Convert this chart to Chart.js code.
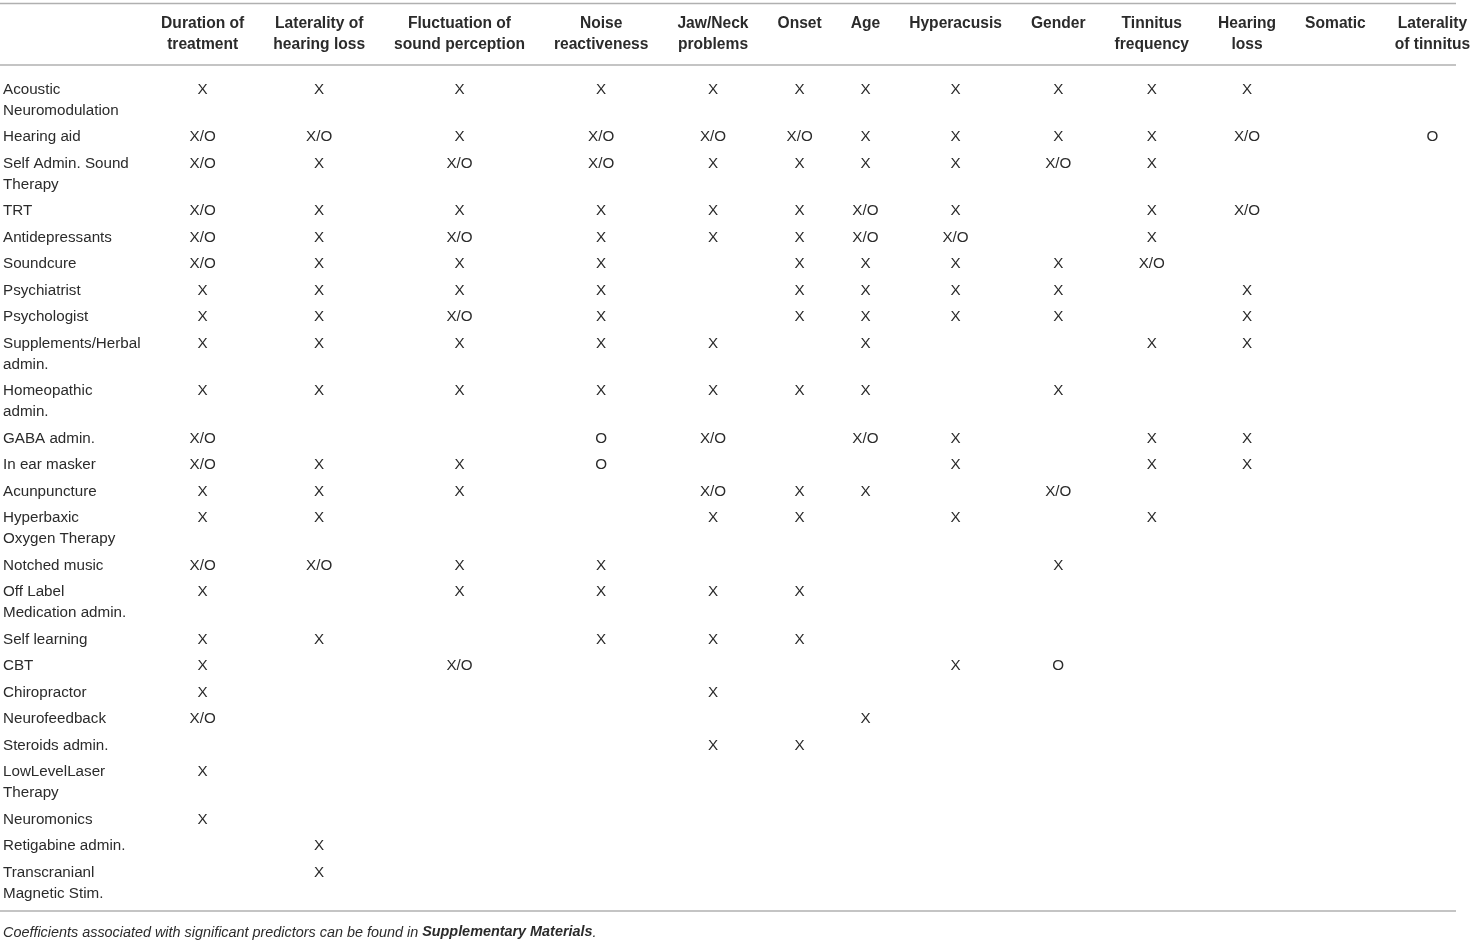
<!DOCTYPE html>
<html>
<head>
<meta charset="utf-8">
<script src="https://cdn.jsdelivr.net/npm/chart.js@4.4.1/dist/chart.umd.min.js"></script>
<style>
  html, body { margin: 0; padding: 0; background: #fff; }
  #wrap { width: 1470px; height: 940px; }
</style>
</head>
<body>
<div id="wrap"><canvas id="predictors"></canvas></div>
<script>
// column headers (one entry per predictor, lines as drawn)
const predictors = [
    ["Duration of", "treatment"],
    ["Laterality of", "hearing loss"],
    ["Fluctuation of", "sound perception"],
    ["Noise", "reactiveness"],
    ["Jaw/Neck", "problems"],
    ["Onset"],
    ["Age"],
    ["Hyperacusis"],
    ["Gender"],
    ["Tinnitus", "frequency"],
    ["Hearing", "loss"],
    ["Somatic"],
    ["Laterality", "of tinnitus"]
];

// row labels (treatments)
const treatments = [
    ["Acoustic", "Neuromodulation"],
    ["Hearing aid"],
    ["Self Admin. Sound", "Therapy"],
    ["TRT"],
    ["Antidepressants"],
    ["Soundcure"],
    ["Psychiatrist"],
    ["Psychologist"],
    ["Supplements/Herbal", "admin."],
    ["Homeopathic", "admin."],
    ["GABA admin."],
    ["In ear masker"],
    ["Acunpuncture"],
    ["Hyperbaxic", "Oxygen Therapy"],
    ["Notched music"],
    ["Off Label", "Medication admin."],
    ["Self learning"],
    ["CBT"],
    ["Chiropractor"],
    ["Neurofeedback"],
    ["Steroids admin."],
    ["LowLevelLaser", "Therapy"],
    ["Neuromonics"],
    ["Retigabine admin."],
    ["Transcranianl", "Magnetic Stim."]
];

// significant predictors per treatment, same order as predictors ("" = not significant)
const significance = [
    ["X", "X", "X", "X", "X", "X", "X", "X", "X", "X", "X"],
    ["X/O", "X/O", "X", "X/O", "X/O", "X/O", "X", "X", "X", "X", "X/O", "", "O"],
    ["X/O", "X", "X/O", "X/O", "X", "X", "X", "X", "X/O", "X"],
    ["X/O", "X", "X", "X", "X", "X", "X/O", "X", "", "X", "X/O"],
    ["X/O", "X", "X/O", "X", "X", "X", "X/O", "X/O", "", "X"],
    ["X/O", "X", "X", "X", "", "X", "X", "X", "X", "X/O"],
    ["X", "X", "X", "X", "", "X", "X", "X", "X", "", "X"],
    ["X", "X", "X/O", "X", "", "X", "X", "X", "X", "", "X"],
    ["X", "X", "X", "X", "X", "", "X", "", "", "X", "X"],
    ["X", "X", "X", "X", "X", "X", "X", "", "X"],
    ["X/O", "", "", "O", "X/O", "", "X/O", "X", "", "X", "X"],
    ["X/O", "X", "X", "O", "", "", "", "X", "", "X", "X"],
    ["X", "X", "X", "", "X/O", "X", "X", "", "X/O"],
    ["X", "X", "", "", "X", "X", "", "X", "", "X"],
    ["X/O", "X/O", "X", "X", "", "", "", "", "X"],
    ["X", "", "X", "X", "X", "X"],
    ["X", "X", "", "X", "X", "X"],
    ["X", "", "X/O", "", "", "", "", "X", "O"],
    ["X", "", "", "", "X"],
    ["X/O", "", "", "", "", "", "X"],
    ["", "", "", "", "X", "X"],
    ["X"],
    ["X"],
    ["", "X"],
    ["", "X"]
];

const footnote = "Coefficients associated with significant predictors can be found in ";
const footnoteBold = "Supplementary Materials";

// layout
const FONT = '"Liberation Sans", Arial, sans-serif';
const BODY_FONT = "15.2px " + FONT;
const HEAD_FONT = "bold 15.6px " + FONT;
const NOTE_SIZE = "14.4px ";
const TEXT = "#2b2b2b";
const RULE = "#b0b0b0";
const LINE_H = 21.15;
const ROW_GAP = 5.3;
const CELL_PAD = 29;
const RULE_W = 1456;

let measureCtx = document.createElement("canvas").getContext("2d");
function widest(lines, font){
    measureCtx.font = font;
    return Math.max(...lines.map(l => measureCtx.measureText(l).width));
}

// column widths follow the header text plus cell padding, like an auto table
let labelColW = Math.max(...treatments.map(t => widest(t, BODY_FONT))) + 9;
let colX = [];
let cx = labelColW;
for (let p of predictors) {
    let w = widest(p, HEAD_FONT) + CELL_PAD;
    colX.push(cx + w / 2);
    cx += w;
}

// row positions follow the number of label lines
let rowY = [];
let cy = 24.5;
for (let t of treatments) {
    rowY.push(cy);
    cy += t.length * LINE_H + ROW_GAP;
}
let yMax = rowY[rowY.length - 1] + (treatments[treatments.length - 1].length - 1) * LINE_H + 17.5;

let cells = [];
significance.forEach((row, r) => {
    row.forEach((mark, c) => {
        if (mark) cells.push({x: colX[c], y: rowY[r], mark: mark});
    });
});

const tablePlugin = {
    id: "tableText",
    afterDatasetsDraw(chart){
        let ctx = chart.ctx;
        let xs = chart.scales.x;
        let ys = chart.scales.y;
        let area = chart.chartArea;
        ctx.save();

        // rules
        ctx.strokeStyle = RULE;
        ctx.lineWidth = 1.6;
        for (let y of [area.top - 61.5, area.top, area.bottom]) {
            ctx.beginPath();
            ctx.moveTo(xs.getPixelForValue(0), y);
            ctx.lineTo(xs.getPixelForValue(RULE_W), y);
            ctx.stroke();
        }

        ctx.fillStyle = TEXT;
        ctx.textBaseline = "middle";

        // cell marks
        ctx.font = BODY_FONT;
        ctx.textAlign = "center";
        let meta = chart.getDatasetMeta(0);
        meta.data.forEach((pt, i) => {
            ctx.fillText(chart.data.datasets[0].data[i].mark, pt.x, pt.y);
        });

        // headers
        ctx.font = HEAD_FONT;
        predictors.forEach((lines, c) => {
            lines.forEach((l, k) => {
                ctx.fillText(l, xs.getPixelForValue(colX[c]), area.top - 41.5 + k * LINE_H);
            });
        });

        // row labels
        ctx.font = BODY_FONT;
        ctx.textAlign = "left";
        treatments.forEach((lines, r) => {
            lines.forEach((l, k) => {
                ctx.fillText(l, xs.getPixelForValue(0) + 3, ys.getPixelForValue(rowY[r] + k * LINE_H));
            });
        });

        // footnote
        let fy = area.bottom + 21.5;
        ctx.font = "italic " + NOTE_SIZE + FONT;
        ctx.fillText(footnote, 3, fy);
        let fw = ctx.measureText(footnote).width;
        ctx.font = "italic bold " + NOTE_SIZE + FONT;
        ctx.fillText(footnoteBold, 3 + fw, fy);
        let bw = ctx.measureText(footnoteBold).width;
        ctx.font = "italic " + NOTE_SIZE + FONT;
        ctx.fillText(".", 3 + fw + bw, fy);

        ctx.restore();
    }
};

let tableChart = new Chart(document.getElementById("predictors"), {
    type: "scatter",
    data: {
        datasets: [{label: "significant", data: cells, pointRadius: 0, pointHoverRadius: 0}]
    },
    options: {
        responsive: true,
        maintainAspectRatio: false,
        animation: false,
        events: [],
        layout: {padding: {top: 65, bottom: 29, left: 0, right: 0}},
        plugins: {legend: {display: false}, tooltip: {enabled: false}},
        scales: {
            x: {type: "linear", display: false, min: 0, max: 1470},
            y: {type: "linear", display: false, reverse: true, min: 0, max: yMax}
        }
    },
    plugins: [tablePlugin]
});
</script>
</body>
</html>
